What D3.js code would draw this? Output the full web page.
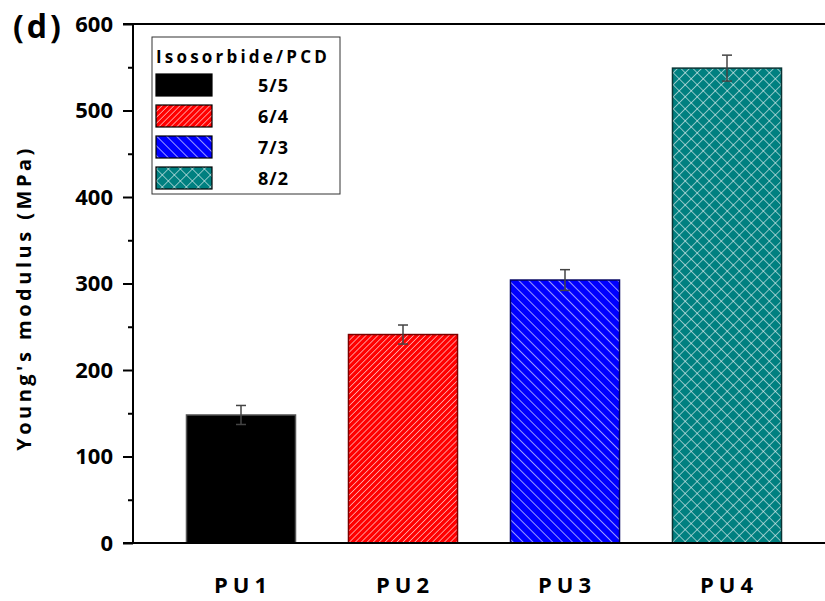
<!DOCTYPE html>
<html>
<head>
<meta charset="utf-8">
<script src="https://cdn.jsdelivr.net/npm/d3@7"></script>
<style>
  html, body { margin: 0; padding: 0; background: #fff; }
  svg { display: block; }
  text { font-family: "Open Sans", "DejaVu Sans", sans-serif; font-weight: 700; fill: #000; }
</style>
</head>
<body>
<svg id="chart" width="825" height="601"></svg>
<script>
// Sample names, compositions, modulus values and standard deviations
const samples = ["PU1", "PU2", "PU3", "PU4"];
const ratios = ["5/5", "6/4", "7/3", "8/2"];
const modulus = [148, 241, 304, 549];
const errors = [11, 11, 12, 15];
const yTicks = [0, 100, 200, 300, 400, 500, 600];
const yMinorTicks = [50, 150, 250, 350, 450, 550];
const fills = ["#000000", "url(#hatchRed)", "url(#hatchBlue)", "url(#hatchTeal)"];
const strokes = ["#555555", "#7a0000", "#000060", "#0b3434"];

const svg = d3.select("#chart");
const W = 825, H = 601;
const margin = { left: 133, top: 24, bottom: 543 };

const x = d3.scaleBand().domain(samples).range([160, 808]).paddingInner(0.327).paddingOuter(0.1635);
const y = d3.scaleLinear().domain([0, 600]).range([margin.bottom, margin.top]);

// Hatch patterns
const defs = svg.append("defs");
function stripes(id, bg, spacing, angle, width) {
  const p = defs.append("pattern").attr("id", id).attr("patternUnits", "userSpaceOnUse")
    .attr("width", spacing).attr("height", spacing).attr("patternTransform", `rotate(${angle})`);
  p.append("rect").attr("width", spacing).attr("height", spacing).attr("fill", bg);
  p.append("line").attr("x1", 0).attr("y1", 0).attr("x2", 0).attr("y2", spacing)
    .attr("stroke", "#ffffff").attr("stroke-width", width);
}
stripes("hatchRed", "#ff0000", 4.2, 45, 1.1);
stripes("hatchBlue", "#0000ff", 7, -45, 1.2);
(function () {
  const s = 8.5;
  const p = defs.append("pattern").attr("id", "hatchTeal").attr("patternUnits", "userSpaceOnUse")
    .attr("width", s).attr("height", s).attr("patternTransform", "rotate(45)");
  p.append("rect").attr("width", s).attr("height", s).attr("fill", "#008080");
  p.append("line").attr("x1", 0).attr("y1", 0).attr("x2", 0).attr("y2", s).attr("stroke", "#e8f4f4").attr("stroke-width", 1.2);
  p.append("line").attr("x1", 0).attr("y1", 0).attr("x2", s).attr("y2", 0).attr("stroke", "#e8f4f4").attr("stroke-width", 1.2);
})();

// Bars
svg.append("g").selectAll("rect").data(samples).join("rect")
  .attr("x", d => x(d))
  .attr("y", (d, i) => y(modulus[i]))
  .attr("width", x.bandwidth())
  .attr("height", (d, i) => y(0) - y(modulus[i]))
  .attr("fill", (d, i) => fills[i])
  .attr("stroke", (d, i) => strokes[i])
  .attr("stroke-width", 1.5);

// Error bars
const eg = svg.append("g").attr("stroke", "#444").attr("stroke-width", 1.5);
samples.forEach((s, i) => {
  const cx = x(s) + x.bandwidth() / 2;
  const hi = y(modulus[i] + errors[i]), lo = y(modulus[i] - errors[i]);
  eg.append("line").attr("x1", cx).attr("x2", cx).attr("y1", hi).attr("y2", lo);
  eg.append("line").attr("x1", cx - 5).attr("x2", cx + 5).attr("y1", hi).attr("y2", hi);
  eg.append("line").attr("x1", cx - 5).attr("x2", cx + 5).attr("y1", lo).attr("y2", lo);
});

// Y axis (major ticks with labels, minor ticks without)
const yAxis = svg.append("g").attr("transform", `translate(${margin.left},0)`)
  .call(d3.axisLeft(y).tickValues(yTicks).tickSize(10).tickPadding(10).tickFormat(d3.format("d")));
yAxis.select(".domain").remove();
yAxis.selectAll(".tick line").attr("stroke", "#000").attr("stroke-width", 2);
yAxis.selectAll(".tick text").style("font-size", "22px").style("font-family", "'Open Sans', sans-serif").style("font-weight", 700);
svg.append("g").attr("transform", `translate(${margin.left},0)`)
  .call(d3.axisLeft(y).tickValues(yMinorTicks).tickSize(5).tickFormat(""))
  .call(g => g.select(".domain").remove())
  .selectAll(".tick line").attr("stroke", "#000").attr("stroke-width", 2);

// Frame lines: left, bottom, top
svg.append("line").attr("x1", margin.left).attr("x2", margin.left).attr("y1", margin.top - 1).attr("y2", margin.bottom + 1)
  .attr("stroke", "#000").attr("stroke-width", 2);
svg.append("line").attr("x1", margin.left - 10).attr("x2", W).attr("y1", margin.bottom).attr("y2", margin.bottom)
  .attr("stroke", "#000").attr("stroke-width", 2);
svg.append("line").attr("x1", margin.left - 10).attr("x2", W).attr("y1", margin.top).attr("y2", margin.top)
  .attr("stroke", "#000").attr("stroke-width", 2);

// Category labels
svg.append("g").selectAll("text").data(samples).join("text")
  .attr("x", d => x(d) + x.bandwidth() / 2 + 2)
  .attr("y", 593)
  .attr("text-anchor", "middle")
  .style("font-size", "22px")
  .style("letter-spacing", "5px")
  .text(d => d);

// Y axis title
svg.append("text")
  .attr("transform", "translate(31,298) rotate(-90)")
  .attr("text-anchor", "middle")
  .style("font-size", "20px")
  .style("letter-spacing", "3.5px")
  .text("Young's modulus (MPa)");

// Panel label
svg.append("text").attr("x", 13).attr("y", 38).style("font-size", "32px").style("letter-spacing", "3px").text("(d)");

// Legend
const lg = svg.append("g");
lg.append("rect").attr("x", 152).attr("y", 37).attr("width", 188).attr("height", 157)
  .attr("fill", "#fff").attr("stroke", "#333").attr("stroke-width", 1);
lg.append("text").attr("x", 156).attr("y", 63).style("font-size", "17px").style("letter-spacing", "3.2px").text("Isosorbide/PCD");
ratios.forEach((r, i) => {
  const yy = 74 + i * 31;
  lg.append("rect").attr("x", 156).attr("y", yy).attr("width", 56).attr("height", 22)
    .attr("fill", fills[i]).attr("stroke", "#000").attr("stroke-width", 1.2);
  lg.append("text").attr("x", 258).attr("y", yy + 18).style("font-size", "18px").style("letter-spacing", "1px").text(r);
});
</script>
</body>
</html>
